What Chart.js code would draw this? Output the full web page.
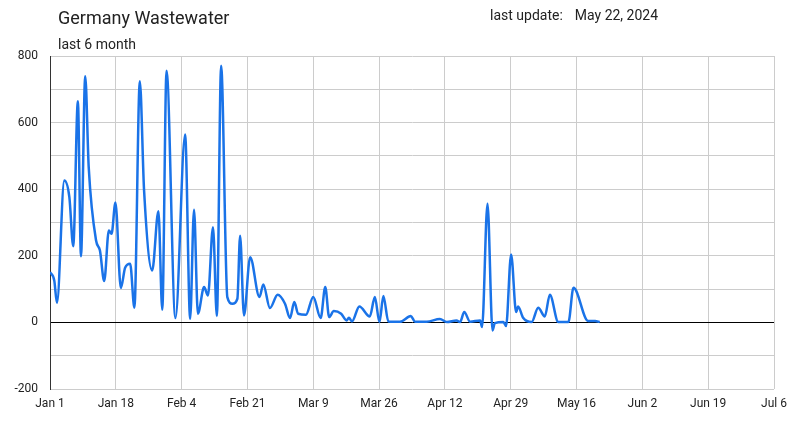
<!DOCTYPE html>
<html>
<head>
<meta charset="utf-8">
<script src="https://cdn.jsdelivr.net/npm/chart.js@4/dist/chart.umd.min.js"></script>
<style>
  html, body { margin: 0; padding: 0; background: #fff; }
  #wrap { position: relative; width: 800px; height: 440px; font-family: Roboto, sans-serif; color: #222; }
  #title { position: absolute; left: 58px; top: 7px; font-size: 18px; }
  #update { position: absolute; left: 490px; top: 7px; font-size: 14px; }
  #update span { margin-left: 12px; }
  #sub { position: absolute; left: 58px; top: 36px; font-size: 14px; }
  canvas { position: absolute; left: 0; top: 0; }
</style>
</head>
<body>
<div id="wrap">
  <canvas id="myChart" width="800" height="440"></canvas>
  <div id="title">Germany Wastewater</div>
  <div id="update">last update:<span>May 22, 2024</span></div>
  <div id="sub">last 6 month</div>
</div>
<script>
// days since Jan 1, 2024
const days = [
  0, 1.1, 1.8, 3.7, 5.0, 6.0, 7.2, 8.0, 9.1, 10.0, 11.9, 12.9, 14.0, 15.2, 15.9, 16.9,
  18.3, 19.4, 20.7, 21.8, 23.2, 24.3, 26.4, 28.0, 29.0, 30.1, 32.4, 34.9, 36.2, 37.2,
  38.2, 39.8, 40.8, 42.1, 43.1, 44.2, 45.8, 47.1, 48.4, 49.1, 50.1, 51.7, 54.1, 55.1,
  56.8, 58.8, 60.7, 62.0, 63.1, 64.1, 66.1, 68.0, 69.9, 71.1, 72.1, 73.3, 75.2, 76.6,
  77.2, 78.0, 79.9, 82.6, 83.9, 85.1, 86.1, 87.4, 90.4, 93.2, 94.3, 97.3, 100.7, 102.5,
  105.0, 105.9, 107.0, 108.5, 111.1, 111.6, 113.0, 114.3, 114.9, 117.1, 117.8, 119.1,
  120.4, 120.9, 122.2, 124.4, 126.1, 127.8, 129.1, 131.3, 133.9, 135.2, 139.0, 140.8, 142.0
];
const values = [
  151, 126, 59, 426, 376, 229, 664, 199, 739, 466, 246, 216, 124, 276, 266, 360,
  103, 164, 176, 44, 724, 396, 156, 334, 38, 756, 13, 564, 11, 338,
  26, 106, 81, 286, 19, 771, 76, 56, 71, 260, 21, 196, 76, 114,
  43, 83, 56, 13, 61, 26, 23, 76, 13, 106, 16, 34, 26, 6,
  14, 3, 48, 18, 76, 1, 79, 3, 2, 19, 2, 2, 10, 1,
  6, 1, 31, 2, 6, -14, 356, -24, -2, 1, -11, 204,
  31, 48, 14, 1, 44, 18, 83, 1, 1, 104, 4, 4, 1
];
const xTickLabels = ['Jan 1', 'Jan 18', 'Feb 4', 'Feb 21', 'Mar 9', 'Mar 26',
  'Apr 12', 'Apr 29', 'May 16', 'Jun 2', 'Jun 19', 'Jul 6'];
const yTickValues = [-200, 0, 200, 400, 600, 800];

const points = days.map((d, i) => ({ x: d, y: values[i] }));

const ctx = document.getElementById('myChart').getContext('2d');
const myChart = new Chart(ctx, {
  type: 'line',
  data: {
    datasets: [{
      data: points,
      borderColor: '#1a73e8',
      borderWidth: 2.5,
      pointRadius: 0,
      cubicInterpolationMode: 'monotone',
      fill: false,
    }],
  },
  options: {
    responsive: false,
    animation: false,
    layout: { padding: { top: 56, right: 26, left: 0, bottom: 0 } },
    plugins: { legend: { display: false }, tooltip: { enabled: false } },
    scales: {
      x: {
        type: 'linear',
        min: 0,
        max: 187,
        afterFit: (scale) => { scale.height = 51; },
        afterBuildTicks: (scale) => {
          scale.ticks = xTickLabels.map((l, i) => ({ value: i * 17 }));
        },
        ticks: {
          padding: 8,
          color: '#222',
          font: { family: 'Roboto', size: 12 },
          maxRotation: 0,
          autoSkip: false,
          callback: (v, i) => xTickLabels[i],
        },
        grid: { color: '#cccccc', drawTicks: false },
        border: { display: false },
      },
      y: {
        min: -200,
        max: 800,
        afterFit: (scale) => { scale.width = 50; },
        ticks: {
          stepSize: 100,
          padding: 12,
          color: '#222',
          font: { family: 'Roboto', size: 12 },
          callback: (v) => yTickValues.includes(v) ? String(v) : '',
        },
        grid: {
          color: (c) => c.tick && c.tick.value === 0 ? '#000000' : '#cccccc',
          drawTicks: false,
        },
        border: { color: '#333333' },
      },
    },
  },
});
</script>
</body>
</html>
